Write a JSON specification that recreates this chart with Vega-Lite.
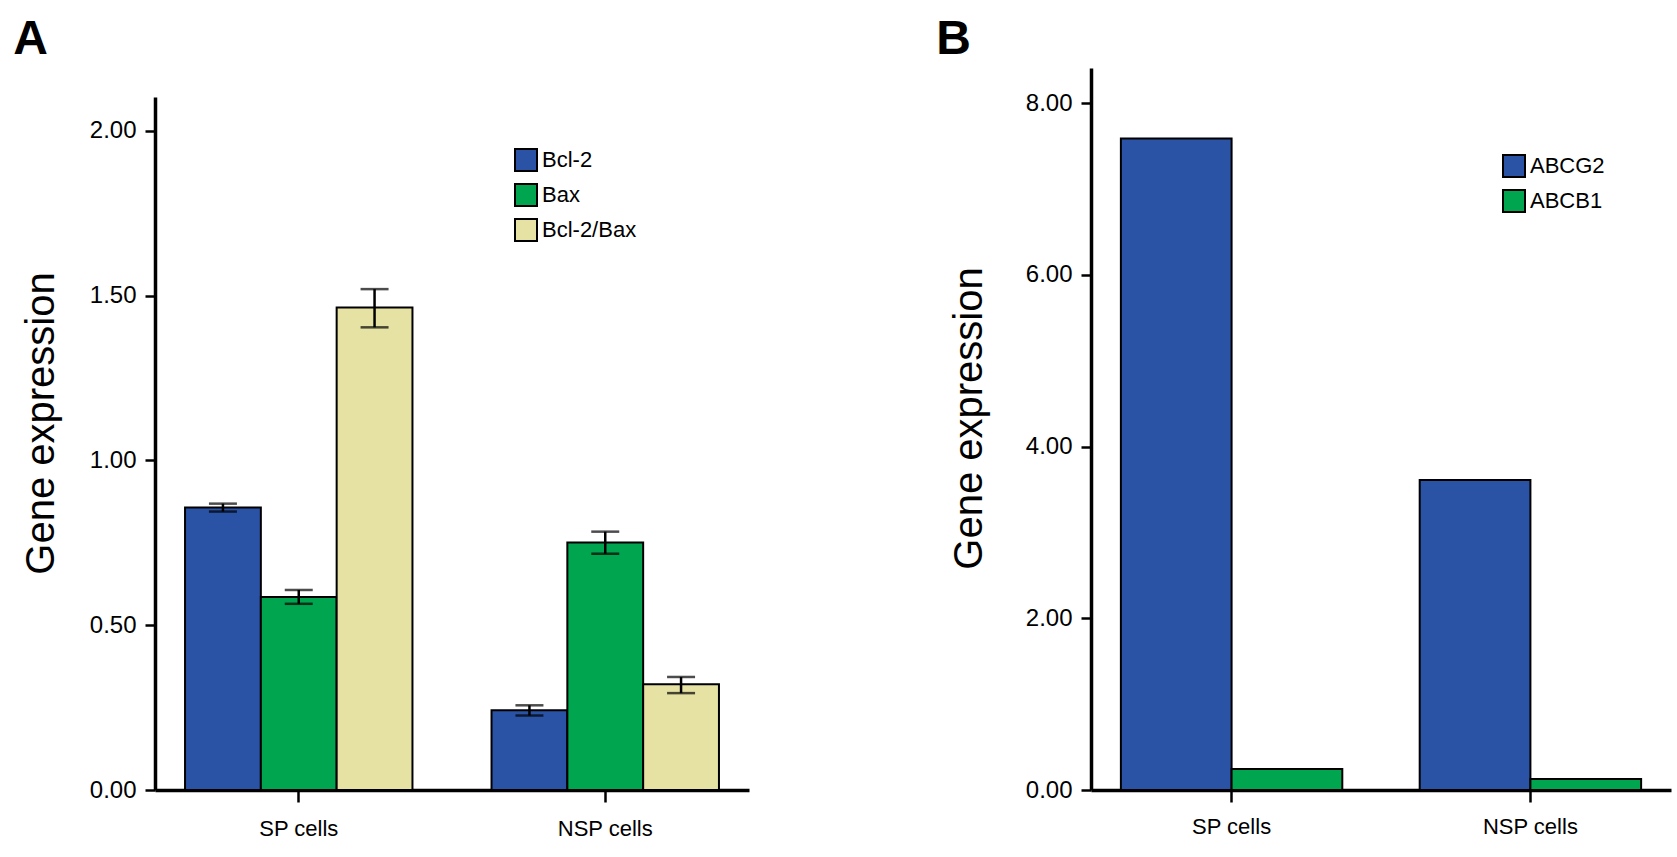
{
  "$schema": "https://vega.github.io/schema/vega-lite/v6.json",
  "background": "white",
  "padding": {"left": 13, "top": 16, "right": 5, "bottom": 0},
  "spacing": 187,
  "resolve": {
    "scale": {"color": "independent", "xOffset": "independent", "x": "independent", "y": "independent"},
    "legend": {"color": "independent"}
  },
  "config": {
    "view": {"stroke": null},
    "font": "Liberation Sans",
    "axis": {
      "domainColor": "black", "domainWidth": 3.5,
      "tickColor": "black", "tickWidth": 2.5, "tickSize": 10,
      "labelColor": "black", "labelFontSize": 24, "labelFont": "Liberation Sans",
      "titleColor": "black", "titleFontSize": 40, "titleFontWeight": "normal", "titleFont": "Liberation Sans",
      "grid": false, "labelPadding": 9
    },
    "title": {"fontSize": 48, "fontWeight": "bold", "anchor": "start", "frame": "bounds", "color": "black", "font": "Liberation Sans"},
    "legend": {
      "symbolType": "square", "symbolSize": 484, "symbolStrokeColor": "black", "symbolStrokeWidth": 2,
      "symbolOpacity": 1, "labelFontSize": 22, "labelColor": "black", "labelFont": "Liberation Sans",
      "rowPadding": 5, "labelOffset": 4
    }
  },
  "hconcat": [
    {
      "title": {"text": "A", "offset": 4, "dx": -8},
      "width": 594,
      "height": 722,
      "data": {"values": [
        {"cell": "SP cells", "gene": "Bcl-2", "value": 0.857, "lo": 0.845, "hi": 0.869},
        {"cell": "SP cells", "gene": "Bax", "value": 0.586, "lo": 0.565, "hi": 0.607},
        {"cell": "SP cells", "gene": "Bcl-2/Bax", "value": 1.464, "lo": 1.404, "hi": 1.520},
        {"cell": "NSP cells", "gene": "Bcl-2", "value": 0.242, "lo": 0.226, "hi": 0.257},
        {"cell": "NSP cells", "gene": "Bax", "value": 0.751, "lo": 0.717, "hi": 0.784},
        {"cell": "NSP cells", "gene": "Bcl-2/Bax", "value": 0.321, "lo": 0.294, "hi": 0.343}
      ]},
      "encoding": {
        "x": {"field": "cell", "type": "nominal", "sort": ["SP cells", "NSP cells"],
              "scale": {"paddingInner": 0.258, "paddingOuter": 0.098},
              "axis": {"title": null, "labelAngle": 0, "labelPadding": 16, "tickSize": 12, "labelFontSize": 22}},
        "xOffset": {"field": "gene", "type": "nominal", "sort": ["Bcl-2", "Bax", "Bcl-2/Bax"],
                    "scale": {"domain": ["Bcl-2", "Bax", "Bcl-2/Bax"], "paddingInner": 0, "paddingOuter": 0}}
      },
      "layer": [
        {
          "mark": {"type": "bar", "stroke": "black", "strokeWidth": 2},
          "encoding": {
            "y": {"field": "value", "type": "quantitative", "scale": {"domain": [0, 2.103], "nice": false, "range": [722, 29]},
                  "axis": {"title": "Gene expression", "values": [0, 0.5, 1, 1.5, 2], "format": ".2f", "titlePadding": 28, "titleY": 355}},
            "color": {"field": "gene", "type": "nominal",
                      "scale": {"domain": ["Bcl-2", "Bax", "Bcl-2/Bax"], "range": ["#2A53A6", "#00A550", "#E6E2A3"]},
                      "legend": {"title": null, "orient": "none", "legendX": 359, "legendY": 80}}
          }
        },
        {
          "mark": {"type": "rule", "strokeWidth": 2.5, "color": "black"},
          "encoding": {
            "y": {"field": "lo", "type": "quantitative", "scale": {"domain": [0, 2.103], "nice": false, "range": [722, 29]}},
            "y2": {"field": "hi"}
          }
        },
        {
          "mark": {"type": "tick", "thickness": 2.5, "size": 28, "color": "black", "orient": "horizontal"},
          "encoding": {"y": {"field": "hi", "type": "quantitative", "scale": {"domain": [0, 2.103], "nice": false, "range": [722, 29]}}}
        },
        {
          "mark": {"type": "tick", "thickness": 2.5, "size": 28, "color": "black", "orient": "horizontal"},
          "encoding": {"y": {"field": "lo", "type": "quantitative", "scale": {"domain": [0, 2.103], "nice": false, "range": [722, 29]}}}
        }
      ]
    },
    {
      "title": {"text": "B", "offset": 4, "dx": -13},
      "width": 580,
      "height": 722,
      "data": {"values": [
        {"cell": "SP cells", "gene": "ABCG2", "value": 7.59},
        {"cell": "SP cells", "gene": "ABCB1", "value": 0.245},
        {"cell": "NSP cells", "gene": "ABCG2", "value": 3.61},
        {"cell": "NSP cells", "gene": "ABCB1", "value": 0.128}
      ]},
      "mark": {"type": "bar", "stroke": "black", "strokeWidth": 2},
      "encoding": {
        "x": {"field": "cell", "type": "nominal", "sort": ["SP cells", "NSP cells"],
              "scale": {"paddingInner": 0.259, "paddingOuter": 0.1},
              "axis": {"title": null, "labelAngle": 0, "labelPadding": 14, "tickSize": 12, "labelFontSize": 22}},
        "xOffset": {"field": "gene", "type": "nominal", "sort": ["ABCG2", "ABCB1"],
                    "scale": {"domain": ["ABCG2", "ABCB1"], "paddingInner": 0, "paddingOuter": 0}},
        "y": {"field": "value", "type": "quantitative", "scale": {"domain": [0, 8.41], "nice": false},
              "axis": {"title": "Gene expression", "values": [0, 2, 4, 6, 8], "format": ".2f", "titlePadding": 36, "titleY": 350}},
        "color": {"field": "gene", "type": "nominal",
                  "scale": {"domain": ["ABCG2", "ABCB1"], "range": ["#2A53A6", "#00A550"]},
                  "legend": {"title": null, "orient": "none", "legendX": 411, "legendY": 86}}
      }
    }
  ]
}
